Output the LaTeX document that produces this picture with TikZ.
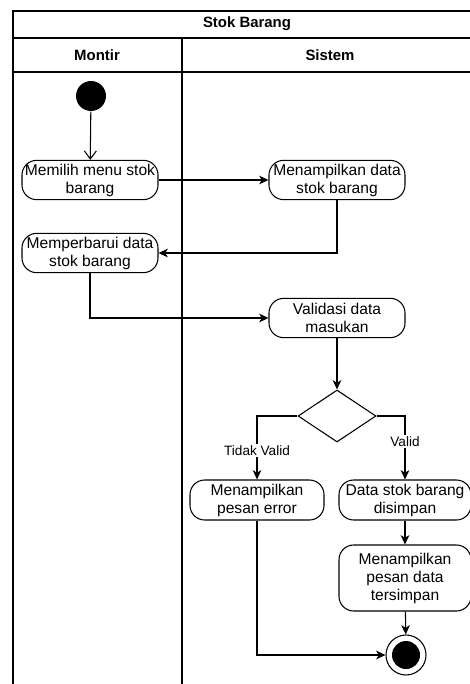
\documentclass[tikz,border=0pt]{standalone}
\usepackage{fontspec}
\setmainfont{Liberation Sans}
\usetikzlibrary{arrows.meta,shapes.geometric}

\begin{document}
\begin{tikzpicture}[x=0.75pt,y=-0.75pt,line width=0.8pt,
  act/.style={draw, rounded corners=11pt, align=center, minimum width=102pt,
    minimum height=29.5pt, inner sep=1pt, font=\fontsize{11.7}{13.5}\selectfont},
  flow/.style={-{Stealth[length=7pt,width=6.5pt,inset=2pt]}},
  lanehead/.style={font=\bfseries\fontsize{11.2}{13}\selectfont},
  guard/.style={fill=white, inner sep=1pt, font=\fontsize{10.2}{12}\selectfont}]
  \useasboundingbox (0,0) rectangle (470,684);
  %% Swimlane frame
  \draw (13,684) -- (13,11) -- (470,11);
  \draw (13,38) -- (470,38);
  \draw (13,72) -- (470,72);
  \draw (182,38) -- (182,684);
  \node[lanehead] (judul) at (247,24) {Stok Barang};
  \node[lanehead] (montir) at (97,55) {Montir};
  \node[lanehead] (sistem) at (330,55) {Sistem};
  %% Activities
  \node[circle, fill=black, minimum size=22.5pt, inner sep=0pt] (mulai) at (91,96) {};
  \node[act] (memilih) at (90,180) {Memilih menu stok\\barang};
  \node[act] (tampil) at (337,180) {Menampilkan data\\stok barang};
  \node[act] (perbarui) at (90,253) {Memperbarui data\\stok barang};
  \node[act] (validasi) at (337,318) {Validasi data\\masukan};
  \node[diamond, draw, minimum width=58.5pt, minimum height=39pt, inner sep=0pt] (cek) at (337,416) {};
  \node[act, minimum width=100.5pt, minimum height=30pt] (error) at (257,500) {Menampilkan\\pesan error};
  \node[act, minimum width=99pt, minimum height=30pt] (simpan) at (405,500) {Data stok barang\\disimpan};
  \node[act, minimum width=99pt, minimum height=49.5pt] (tersimpan) at (405,578) {Menampilkan\\pesan data\\tersimpan};
  \node[circle, draw, minimum size=30pt, inner sep=0pt] (akhir) at (406,655) {};
  \fill (akhir) circle (10.5pt);
  %% Flows
  \draw[-{Straight Barb[length=6pt,width=9pt]}] (mulai) -- (memilih);
  \draw[flow] (memilih) -- (tampil);
  \draw[flow] (tampil.south) |- (perbarui.east);
  \draw[flow] (perbarui.south) |- (validasi.west);
  \draw[flow] (validasi) -- (cek);
  \draw[flow] (cek.west) -| node[guard, pos=0.77] {Tidak Valid} (error.north);
  \draw[flow] (cek.east) -| node[guard, pos=0.7] {Valid} (simpan.north);
  \draw[flow] (simpan) -- (tersimpan);
  \draw[flow] (tersimpan) -- (akhir);
  \draw[flow] (error.south) |- (akhir.west);
\end{tikzpicture}
\end{document}
